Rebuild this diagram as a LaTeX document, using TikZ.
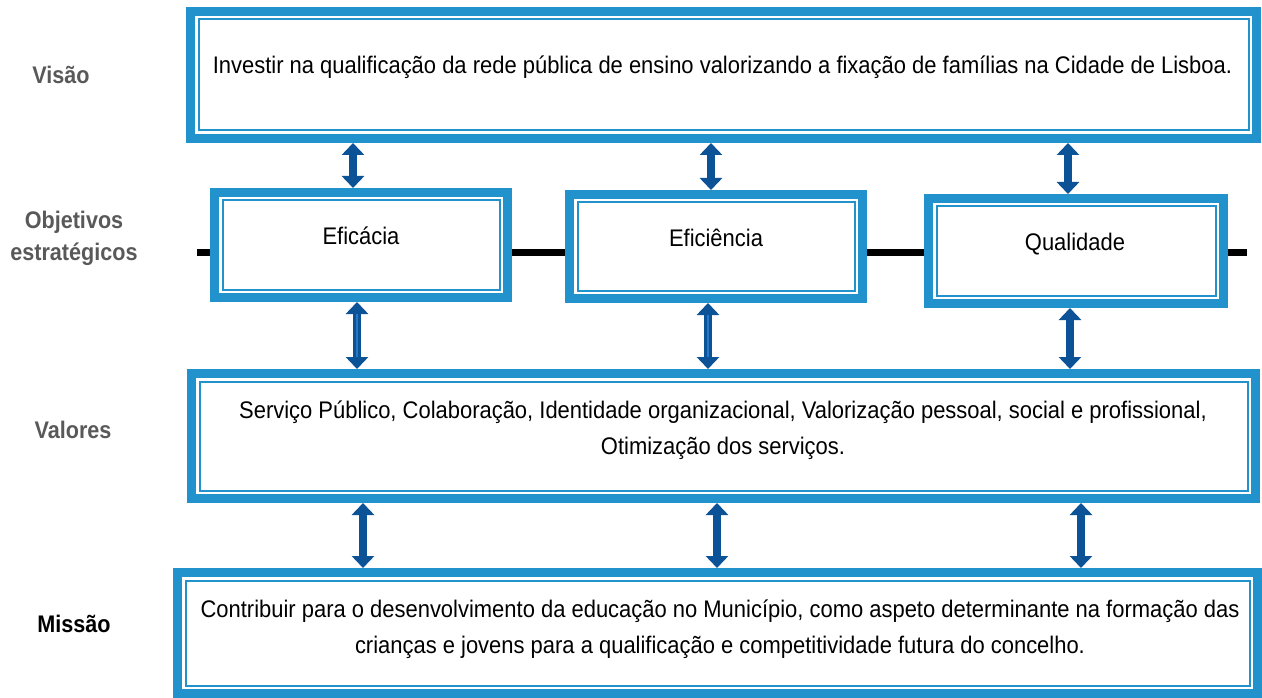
\documentclass[tikz,border=0pt]{standalone}
\usepackage{fontspec}
\setmainfont{Liberation Sans}[FakeStretch=0.915]
\newfontfamily\labfont{Liberation Sans}[FakeStretch=0.9]
\usetikzlibrary{arrows.meta}
\definecolor{boxblue}{RGB}{33,146,204}
\definecolor{arrblue}{RGB}{11,82,150}
\definecolor{stripeblue}{RGB}{40,120,200}
\definecolor{labgray}{RGB}{89,89,89}
\begin{document}
\begin{tikzpicture}[x=1pt,y=-1pt,
  bigbox/.style={draw=boxblue,line width=9pt,outer sep=4.5pt,inner sep=0pt,fill=white},
  txt/.style={font=\fontsize{24}{36}\selectfont,align=center,anchor=base,inner sep=0pt},
  lab/.style={font=\labfont\fontsize{24}{32}\selectfont\bfseries,text=labgray,align=center,anchor=base,inner sep=0pt},
  dbl/.style={arrblue,line width=8pt,{Triangle[width=22pt,length=12pt]}-{Triangle[width=22pt,length=12pt]}},
  blackline/.style={black,line width=7pt}
]
\useasboundingbox (0,0) rectangle (1262,698);
% black line ends
\coordinate (lstart) at (197,252);
\coordinate (lend) at (1247,252);
% boxes (outer edges)
\node[bigbox,minimum width=1066pt,minimum height=127pt] (visao) at (723.5,75) {};
\node[bigbox,minimum width=293pt,minimum height=105pt] (efic) at (361,245) {};
\node[bigbox,minimum width=293pt,minimum height=104pt] (efin) at (716,246.5) {};
\node[bigbox,minimum width=295pt,minimum height=105pt] (qual) at (1076,251) {};
\node[bigbox,minimum width=1064pt,minimum height=125pt] (valores) at (723.5,436) {};
\node[bigbox,minimum width=1080pt,minimum height=121pt] (missao) at (717.5,633) {};
% inner thin lines
\foreach \n in {visao,efic,efin,qual,valores,missao}{
  \draw[boxblue,line width=2pt] ([shift={(12.5,12.5)}]\n.north west) rectangle ([shift={(-12.5,-12.5)}]\n.south east);
}
% connecting black line
\draw[blackline] (lstart) -- (efic.west |- lstart);
\draw[blackline] (efic.east |- lstart) -- (efin.west |- lstart);
\draw[blackline] (efin.east |- lstart) -- (qual.west |- lstart);
\draw[blackline] (qual.east |- lstart) -- (lend);
% texts
\node[txt] (tvisao) at (722.5,74) {Investir na qualificação da rede pública de ensino valorizando a fixação de famílias na Cidade de Lisboa.};
\node[txt] (tefic) at (361,244) {Eficácia};
\node[txt] (tefin) at (716,246) {Eficiência};
\node[txt] (tqual) at (1075,250) {Qualidade};
\node[txt] (tvalores) at (723,454) {Serviço Público, Colaboração, Identidade organizacional, Valorização pessoal, social e profissional,\\Otimização dos serviços.};
\node[txt] (tmissao) at (720,653) {Contribuir para o desenvolvimento da educação no Município, como aspeto determinante na formação das\\crianças e jovens para a qualificação e competitividade futura do concelho.};
% labels
\node[lab] (lvisao) at (61,84) {Visão};
\node[lab] (lobj) at (74,260) {Objetivos\\estratégicos};
\node[lab] (lvalores) at (73,438) {Valores};
\node[lab,text=black] (lmissao) at (74,632) {Missão};
% arrows
\draw[dbl] (353,0 |- visao.south) -- (353,0 |- efic.north);
\draw[dbl] (711,0 |- visao.south) -- (711,0 |- efin.north);
\draw[dbl] (1068,0 |- visao.south) -- (1068,0 |- qual.north);
\draw[dbl] (357,0 |- efic.south) -- (357,0 |- valores.north);
\draw[dbl] (708,0 |- efin.south) -- (708,0 |- valores.north);
\draw[dbl] (1070,0 |- qual.south) -- (1070,0 |- valores.north);
\draw[dbl] (363,0 |- valores.south) -- (363,0 |- missao.north);
\draw[dbl] (717,0 |- valores.south) -- (717,0 |- missao.north);
\draw[dbl] (1081,0 |- valores.south) -- (1081,0 |- missao.north);
\draw[stripeblue,line width=1.5pt,shorten >=12pt,shorten <=12pt] (357,0 |- efic.south) -- (357,0 |- valores.north);
\draw[stripeblue,line width=1.5pt,shorten >=12pt,shorten <=12pt] (708,0 |- efin.south) -- (708,0 |- valores.north);
\end{tikzpicture}
\end{document}
